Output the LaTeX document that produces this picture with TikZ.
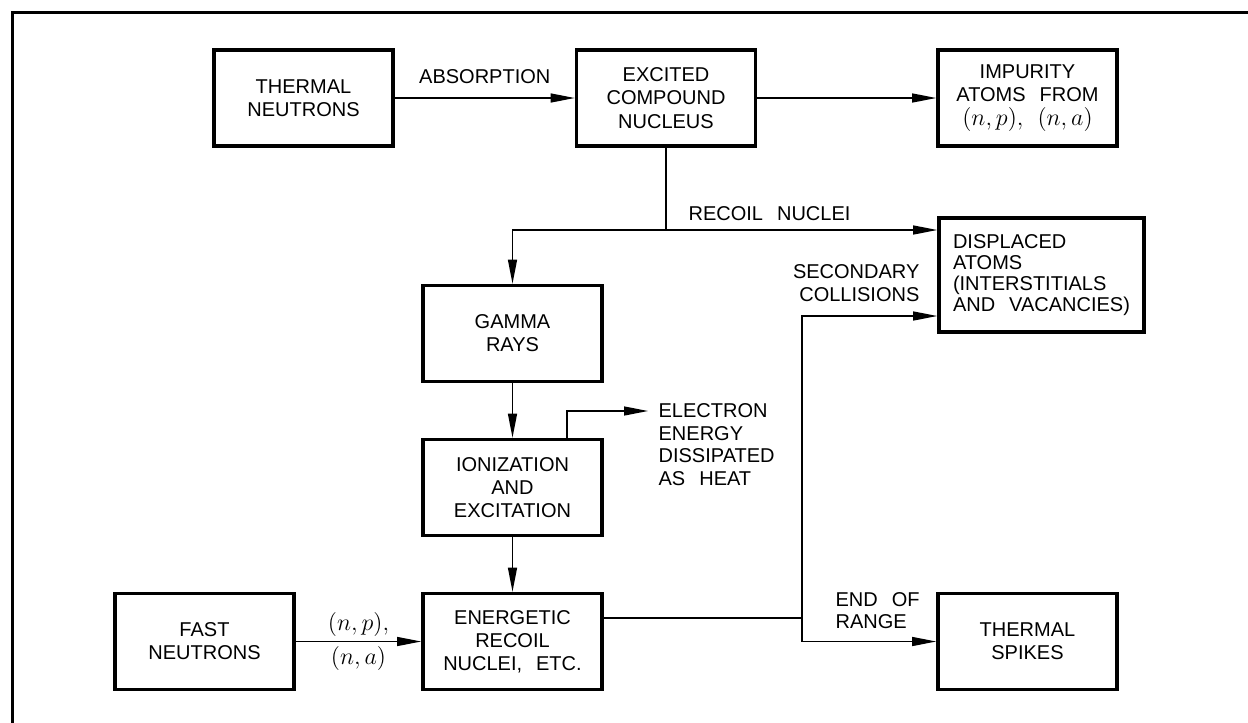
\documentclass[tikz,border=0pt]{standalone}
\usepackage{fontspec}
\setmainfont{Liberation Sans}
\usetikzlibrary{arrows.meta}
\newcommand{\wgap}{\hspace{0.7em}}
\newcommand{\rxn}[1]{{\fontsize{12}{12}\selectfont$#1$}}

\begin{document}
\begin{tikzpicture}[x=0.5pt,y=-0.5pt,line width=0.65pt,>={Triangle[length=12pt,width=4.5pt]},
        box/.style={draw,line width=1.8pt,minimum width=89.5pt,minimum height=48pt,align=center,inner sep=2pt,font=\fontsize{10}{11.6}\selectfont},
        lbl/.style={inner sep=0pt,font=\fontsize{10}{11.3}\selectfont}]
        \useasboundingbox (0,0) rectangle (1248,723);
        \draw[line width=1.2pt] (12.5,723) -- (12.5,12.5) -- (1248,12.5);
        \node[box] (thermal) at (303.5,98) {THERMAL\\NEUTRONS};
        \node[box] (excited) at (666,98) {EXCITED\\COMPOUND\\NUCLEUS};
        \node[box] (impurity) at (1027.5,98) {IMPURITY\\ATOMS\wgap FROM\\\rxn{(n,p),}\wgap\rxn{(n,a)}};
        \node[box,minimum width=102.5pt,minimum height=57pt,align=left,font=\fontsize{10}{10.4}\selectfont] (displaced) at (1041.5,275) {DISPLACED\\ATOMS\\(INTERSTITIALS\\AND\wgap VACANCIES)};
        \node[box] (gamma) at (512.5,333.5) {GAMMA\\RAYS};
        \node[box] (ioniz) at (512.5,487.5) {IONIZATION\\AND\\EXCITATION};
        \node[box] (energetic) at (512.5,641.5) {ENERGETIC\\RECOIL\\NUCLEI,\wgap ETC.};
        \node[box] (fast) at (204.5,641.5) {FAST\\NEUTRONS};
        \node[box] (spikes) at (1027.5,641.5) {THERMAL\\SPIKES};
        \node[lbl,align=left,anchor=west] (electron) at (658,444.5) {ELECTRON\\ENERGY\\DISSIPATED\\AS\wgap HEAT};
        \node[lbl,align=right,anchor=east] (seclbl) at (920,283) {SECONDARY\\COLLISIONS};
        \node[lbl,align=left,anchor=west] (rangelbl) at (835,610.5) {END\wgap OF\\RANGE};
        \coordinate (recoil) at (666,230);
        \coordinate (gturn) at (512.5,230);
        \coordinate (etop) at (567,411);
        \coordinate (fork) at (802,618);
        \coordinate (sec) at (802,316);
        \coordinate (range) at (802,641.5);
        \draw[->] (thermal) -- node[lbl,above=7pt]{ABSORPTION} (excited);
        \draw[->] (excited) -- (impurity);
        \draw[->] (excited.south) |- (gturn) -- (gamma.north);
        \draw[->] (recoil) -- node[lbl,pos=0,anchor=south west,xshift=11pt,yshift=4.5pt]{RECOIL\wgap NUCLEI} (recoil -| displaced.west);
        \foreach \a/\b in {gamma/ioniz,ioniz/energetic}
        {
            \draw[->] (\a) -- (\b);
        }
        \draw[->] (ioniz.north -| etop) -- (etop) -- ([xshift=-5pt]electron.west |- etop);
        \draw[->] (fast) -- node[lbl,above=2pt]{\rxn{(n,p),}} node[lbl,below=2pt]{\rxn{(n,a)}} (energetic);
        \draw (energetic.east |- fork) -- (fork);
        \draw[->] (range) -- (sec) -- (sec -| displaced.west);
        \draw[->] (range) -- (spikes.west);
    \end{tikzpicture}
\end{document}
